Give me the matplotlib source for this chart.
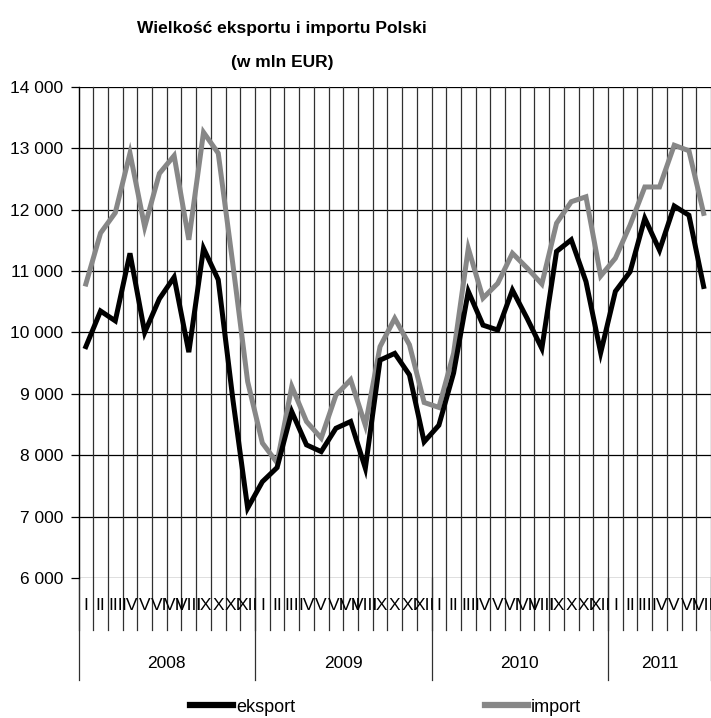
import matplotlib.pyplot as plt
import matplotlib.transforms as mtransforms
from matplotlib.lines import Line2D
from matplotlib.ticker import FuncFormatter

# wartosci w mln EUR, miesiecznie od I 2008
lata = ['2008', '2009', '2010', '2011']
miesiace_w_roku = [12, 12, 12, 7]
rzymskie = ['I', 'II', 'III', 'IV', 'V', 'VI', 'VII', 'VIII', 'IX', 'X', 'XI', 'XII']

eksport = [9770, 10350, 10190, 11290, 10000, 10550, 10900, 9680, 11370, 10860, 8900, 7140,
           7570, 7800, 8710, 8170, 8060, 8440, 8550, 7790, 9550, 9660, 9310, 8220,
           8490, 9340, 10670, 10120, 10040, 10690, 10230, 9740, 11320, 11510, 10830, 9670,
           10670, 10990, 11860, 11340, 12060, 11910, 10750]

import_ = [10790, 11620, 11950, 12920, 11720, 12590, 12880, 11510, 13260, 12920, 11100, 9200,
           8200, 7880, 9120, 8550, 8280, 8980, 9230, 8490, 9770, 10230, 9800, 8860,
           8780, 9660, 11370, 10560, 10800, 11290, 11050, 10790, 11780, 12130, 12210, 10920,
           11210, 11750, 12370, 12370, 13050, 12960, 11940]

plt.rcParams['font.family'] = ['Liberation Sans', 'DejaVu Sans']

W, H = 711, 718
fig = plt.figure(figsize=(W / 100, H / 100), dpi=100)

ax_left, ax_right = 78.5, 711.0
ax_top, ax_bottom = 86.9, 578.1
ax = fig.add_axes([ax_left / W, 1 - ax_bottom / H,
                   (ax_right - ax_left) / W, (ax_bottom - ax_top) / H])

n = len(eksport)
x = [i + 0.5 for i in range(n)]

ax.set_xlim(0, n)
ax.set_ylim(6000, 14000)

# siatka
for v in range(6000, 14001, 1000):
    ax.axhline(v, color='black', linewidth=0.9, zorder=1)

trans = mtransforms.blended_transform_factory(ax.transData, ax.transAxes)
granice_lat = [0]
for m in miesiace_w_roku:
    granice_lat.append(granice_lat[-1] + m)

for k in range(n + 1):
    ax.plot([k, k], [1, -0.1057], transform=trans, color='#303030',
            linewidth=0.9, clip_on=False, zorder=1)
for g in granice_lat:
    ax.plot([g, g], [0, -0.2073], transform=trans, color='#303030',
            linewidth=0.9, clip_on=False, zorder=1)

ax.plot(x, import_, color='#878787', linewidth=3.6, solid_joinstyle='miter',
        label='import', zorder=3)
ax.plot(x, eksport, color='black', linewidth=3.6, solid_joinstyle='miter',
        label='eksport', zorder=4)

# opisy osi kategorii
k = 0
for rok, m in zip(lata, miesiace_w_roku):
    for j in range(m):
        ax.text(k + j + 0.5, -0.055, rzymskie[j], transform=trans,
                ha='center', va='center', fontsize=12.5)
    ax.text(k + m / 2, -0.173, rok, transform=trans,
            ha='center', va='center', fontsize=12.5)
    k += m

ax.set_xticks([])
ax.set_yticks(range(6000, 14001, 1000))
ax.yaxis.set_major_formatter(FuncFormatter(lambda v, p: f'{int(v):,}'.replace(',', ' ')))
ax.tick_params(axis='y', direction='out', length=6, width=0.9, pad=5, labelsize=12.5)

for s in ['top', 'right', 'bottom']:
    ax.spines[s].set_visible(False)
ax.spines['left'].set_linewidth(0.9)

fig.text(282 / W, 1 - 28 / H, 'Wielkość eksportu i importu Polski',
         ha='center', va='center', fontsize=12.5, fontweight='bold')
fig.text(282 / W, 1 - 62 / H, '(w mln EUR)',
         ha='center', va='center', fontsize=12.5, fontweight='bold')

uchwyty = [Line2D([], [], color='black', linewidth=4.5),
           Line2D([], [], color='#878787', linewidth=4.5)]
fig.legend(uchwyty, ['eksport', 'import'], loc='center',
           bbox_to_anchor=(0.5 + 30 / W, 1 - 707 / H), ncol=2, frameon=False,
           fontsize=13, handlelength=2.4, handletextpad=0.15, columnspacing=10.5)

fig.savefig('out.png', dpi=100)
